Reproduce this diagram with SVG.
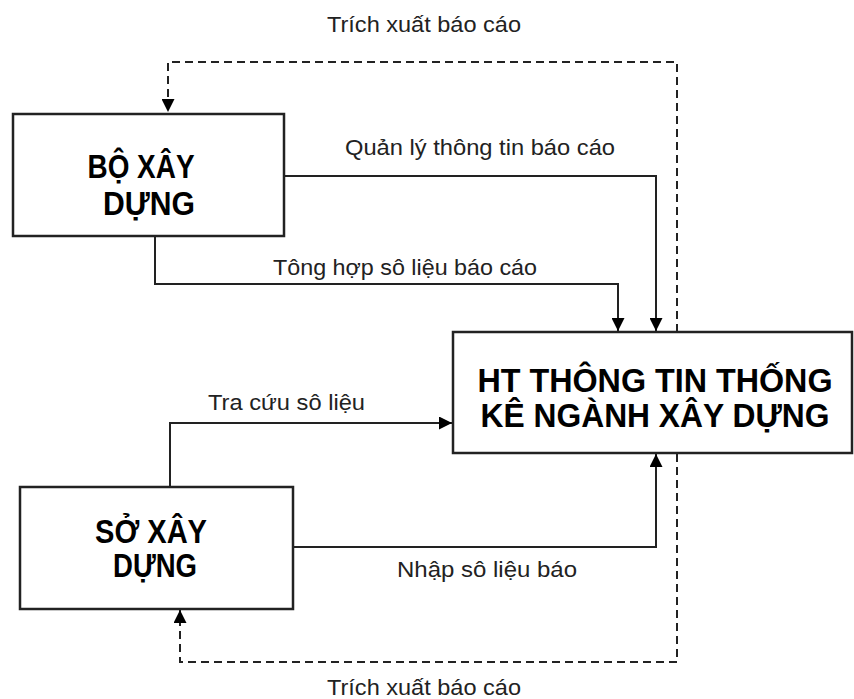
<svg xmlns="http://www.w3.org/2000/svg" width="854" height="699" viewBox="0 0 854 699">
<style>
.box{fill:#fff;stroke:#222;stroke-width:2.5}
.ln{fill:none;stroke:#222;stroke-width:2}
.dash{fill:none;stroke:#222;stroke-width:2;stroke-dasharray:8 5}
.lbl{font-family:"Liberation Sans",Arial,sans-serif;font-size:22px;fill:#222}
.ttl{font-family:"Liberation Sans",Arial,sans-serif;font-size:33px;font-weight:bold;fill:#000;text-anchor:middle}
</style>
<defs>
<marker id="ah" viewBox="0 0 10 10" refX="10" refY="5" markerWidth="14" markerHeight="13" markerUnits="userSpaceOnUse" orient="auto">
<path d="M0,0 L10,5 L0,10 Z" fill="#000"/>
</marker>
</defs>
<rect width="854" height="699" fill="#fff"/>
<g id="connectors">
<path class="dash" d="M677,332 V62 H168 V112" marker-end="url(#ah)"/>
<path class="ln" d="M284,176 H656 V331" marker-end="url(#ah)"/>
<path class="ln" d="M155,236 V284 H618 V331" marker-end="url(#ah)"/>
<path class="ln" d="M170,487 V423 H452" marker-end="url(#ah)"/>
<path class="ln" d="M293,547 H656 V454" marker-end="url(#ah)"/>
<path class="dash" d="M677,454 V662 H180 V610" marker-end="url(#ah)"/>
<text class="lbl" x="327" y="32" textLength="194" lengthAdjust="spacingAndGlyphs">Trích xuất báo cáo</text>
<text class="lbl" x="345" y="155" textLength="270" lengthAdjust="spacingAndGlyphs">Quản lý thông tin báo cáo</text>
<text class="lbl" x="273" y="275" textLength="264" lengthAdjust="spacingAndGlyphs">Tông hợp sô liệu báo cáo</text>
<text class="lbl" x="208" y="410" textLength="157" lengthAdjust="spacingAndGlyphs">Tra cứu sô liệu</text>
<text class="lbl" x="397" y="577" textLength="180" lengthAdjust="spacingAndGlyphs">Nhập sô liệu báo</text>
<text class="lbl" x="327" y="695" textLength="194" lengthAdjust="spacingAndGlyphs">Trích xuất báo cáo</text>
</g>
<g id="bo-xay-dung">
<rect class="box" x="13" y="114" width="271" height="122"/>
<text class="ttl" x="141" y="178" textLength="107" lengthAdjust="spacingAndGlyphs">BỘ XÂY</text>
<text class="ttl" x="149" y="215" textLength="92" lengthAdjust="spacingAndGlyphs">DỰNG</text>
</g>
<g id="ht-thong-tin">
<rect class="box" x="453" y="332" width="399" height="121"/>
<text class="ttl" x="655" y="392" textLength="355" lengthAdjust="spacingAndGlyphs">HT THÔNG TIN THỐNG</text>
<text class="ttl" x="655" y="427" textLength="349" lengthAdjust="spacingAndGlyphs">KÊ NGÀNH XÂY DỰNG</text>
</g>
<g id="so-xay-dung">
<rect class="box" x="20" y="487" width="273" height="122"/>
<text class="ttl" x="151" y="543" textLength="112" lengthAdjust="spacingAndGlyphs">SỞ XÂY</text>
<text class="ttl" x="155" y="577" textLength="84" lengthAdjust="spacingAndGlyphs">DỰNG</text>
</g>
</svg>
